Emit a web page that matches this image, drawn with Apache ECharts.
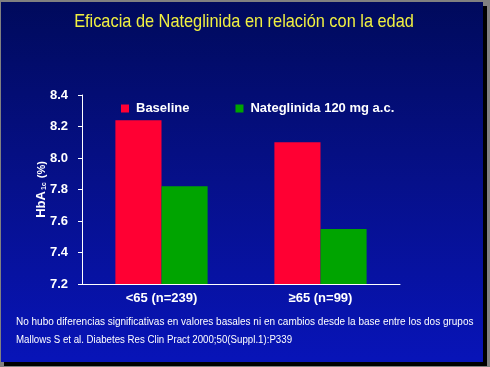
<!DOCTYPE html>
<html><head><meta charset="utf-8">
<script src="https://cdn.jsdelivr.net/npm/echarts@6/dist/echarts.min.js"></script>
<style>html,body{margin:0;padding:0;background:#808080;}#c{width:490px;height:367px;}</style>
</head><body><div id="c"></div>
<script>
const categories = ['<65 (n=239)', '≥65 (n=99)'];
const baseline = [8.24, 8.10];
const nateglinida = [7.82, 7.55];
const seriesNames = ['Baseline', 'Nateglinida 120 mg a.c.'];
const yTicks = [7.2, 7.4, 7.6, 7.8, 8.0, 8.2, 8.4];
const titleText = 'Eficacia de Nateglinida en relación con la edad';
const note1 = 'No hubo diferencias significativas en valores basales ni en cambios desde la base entre los dos grupos';
const note2 = 'Mallows S et al. Diabetes Res Clin Pract 2000;50(Suppl.1):P339';

const chart = echarts.init(document.getElementById('c'), null, {renderer: 'canvas'});
const font = 'Liberation Sans, Arial, sans-serif';
chart.setOption({
  backgroundColor: '#808080',
  animation: false,
  graphic: [
    {type: 'rect', z: -10, shape: {x: 4, y: 6, width: 483, height: 360}, style: {fill: '#000000'}},
    {type: 'rect', z: -9, shape: {x: 1, y: 2, width: 482, height: 360},
     style: {fill: new echarts.graphic.LinearGradient(0, 0, 0, 1, [
       {offset: 0, color: '#000a5c'}, {offset: 0.5, color: '#06108a'}, {offset: 1, color: '#0814b8'}])}},
    {type: 'text', x: 244, y: 22, scaleX: 0.86,
     style: {text: titleText, fill: '#f0f040', font: '19px ' + font, align: 'center', verticalAlign: 'middle'}},
    {type: 'text', left: 16, top: 317, style: {text: note1, fill: '#ffffff', font: '10px ' + font}},
    {type: 'text', x: 16, y: 335, scaleX: 0.97, style: {text: note2, fill: '#ffffff', font: '10px ' + font}}
  ],
  legend: {
    left: 116, top: 97, itemWidth: 8, itemHeight: 8, itemGap: 46, icon: 'rect',
    textStyle: {color: '#ffffff', fontSize: 13, fontWeight: 'bold', fontFamily: font, padding: [0, 0, 0, 2]},
    data: seriesNames
  },
  grid: {left: 82, right: 90, top: 95, bottom: 83},
  xAxis: {
    type: 'category', data: categories,
    axisLine: {lineStyle: {color: '#ffffff', width: 1}},
    axisTick: {length: 4, lineStyle: {color: '#ffffff'}},
    axisLabel: {color: '#ffffff', fontSize: 13, fontWeight: 'bold', fontFamily: font, margin: 8}
  },
  yAxis: {
    type: 'value', min: 7.2, max: 8.4, interval: 0.2,
    name: '{b|HbA}{s|1c}{n| (%)}', nameLocation: 'middle', nameGap: 34, nameRotate: 90, nameMoveOverlap: false,
    nameTextStyle: {rich: {
      b: {color: '#ffffff', fontSize: 13, fontWeight: 'bold', fontFamily: font},
      s: {color: '#ffffff', fontSize: 7, fontWeight: 'bold', fontFamily: font, verticalAlign: 'bottom', padding: [6, 1, 0, 1]},
      n: {color: '#ffffff', fontSize: 11, fontWeight: 'bold', fontFamily: font}
    }},
    axisLine: {show: true, lineStyle: {color: '#ffffff', width: 1}},
    axisTick: {show: true, length: 4, lineStyle: {color: '#ffffff'}},
    splitLine: {show: false},
    axisLabel: {color: '#ffffff', fontSize: 13, fontWeight: 'bold', fontFamily: font, margin: 14,
      formatter: v => { const t = yTicks.find(x => Math.abs(x - v) < 1e-6); return (t !== undefined ? t : v).toFixed(1); }}
  },
  series: [
    {name: seriesNames[0], type: 'bar', data: baseline, barGap: '0%', barCategoryGap: '42%', itemStyle: {color: '#ff0033'}},
    {name: seriesNames[1], type: 'bar', data: nateglinida, itemStyle: {color: '#00a400'}}
  ]
});
</script></body></html>
